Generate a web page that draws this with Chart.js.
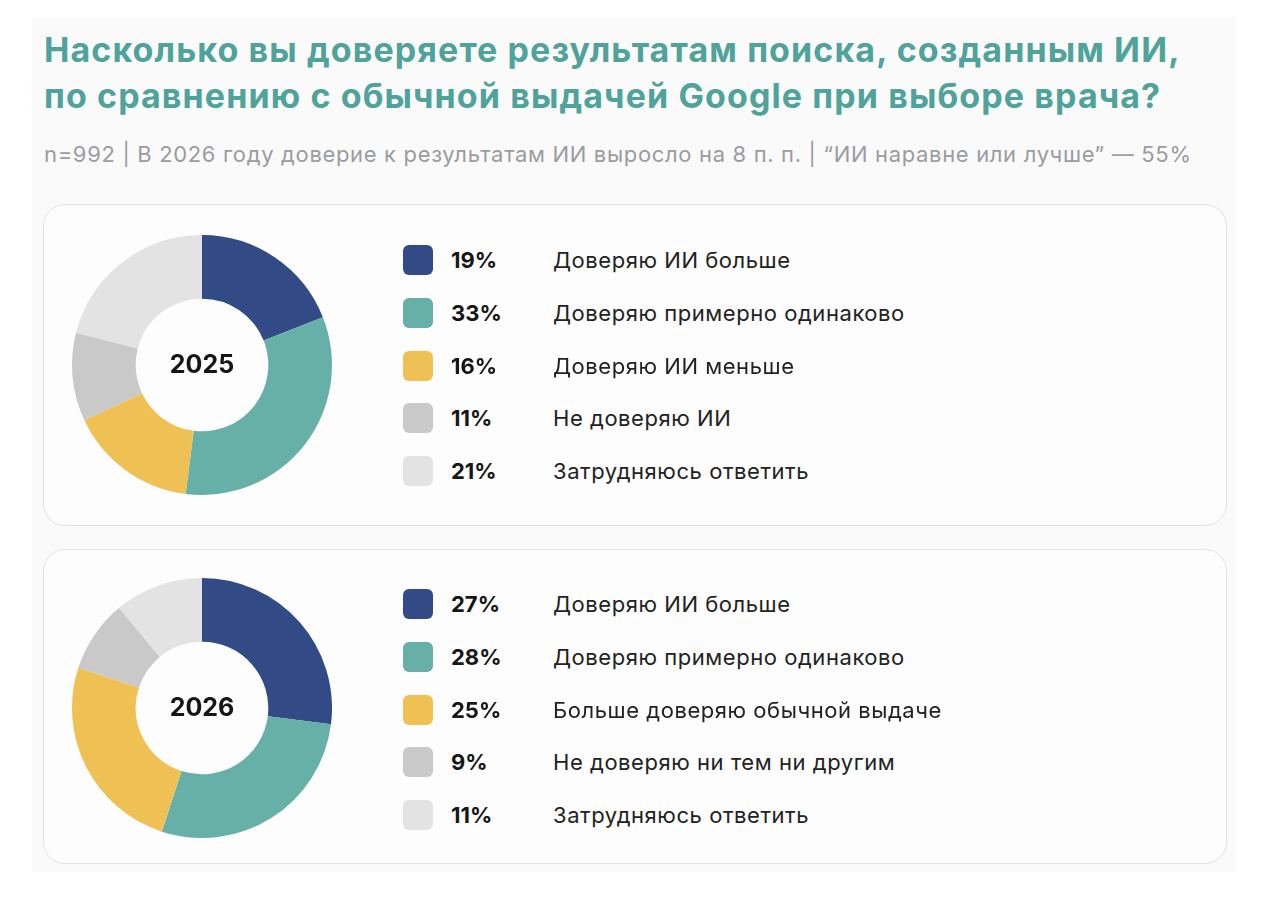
<!DOCTYPE html>
<html lang="ru">
<head>
<meta charset="utf-8">
<script src="https://cdn.jsdelivr.net/npm/chart.js@4.4.1/dist/chart.umd.min.js"></script>
<style>
	body {
		margin: 0;
		background: #ffffff;
		font-family: Inter, 'Noto Sans', sans-serif;
	}
	.page {
		position: absolute;
		left: 32px;
		top: 18px;
		width: 1204px;
		height: 854px;
		background: #fafafa;
	}
	.title {
		position: absolute;
		left: 44px;
		top: 27px;
		margin: 0;
		font-size: 34px;
		line-height: 46px;
		font-weight: 700;
		color: #4fa39a;
		letter-spacing: 1.1px;
	}
	.subtitle {
		position: absolute;
		left: 44px;
		top: 141px;
		font-size: 22px;
		letter-spacing: 0.66px;
		color: #9a9c9f;
	}
	.card {
		position: absolute;
		left: 43px;
		width: 1184px;
		background: #fdfdfd;
		border: 1.5px solid #e2e2e2;
		border-radius: 22px;
		box-sizing: border-box;
	}
	.donut {
		position: absolute;
		left: 72px;
		width: 260px;
		height: 260px;
	}
	.center {
		position: absolute;
		left: 72px;
		width: 260px;
		text-align: center;
		font-size: 25px;
		font-weight: 700;
		color: #161616;
	}
	.row {
		position: absolute;
		left: 403px;
		height: 30px;
		display: flex;
		align-items: center;
	}
	.sw {
		width: 30px;
		height: 30px;
		border-radius: 6px;
	}
	.pct {
		width: 102px;
		margin-left: 18px;
		font-size: 22px;
		font-weight: 700;
		color: #161616;
	}
	.lbl {
		font-size: 22px;
		letter-spacing: 0.55px;
		color: #222222;
	}
</style>
</head>
<body>
<div class="page"></div>
<h1 class="title">Насколько вы доверяете результатам поиска, созданным ИИ,<br>по сравнению с обычной выдачей Google при выборе врача?</h1>
<div class="subtitle">n=992 | В 2026 году доверие к результатам ИИ выросло на 8 п. п. | “ИИ наравне или лучше” — 55%</div>
<div class="card" style="top:204px;height:322px;"></div>
<div class="card" style="top:549px;height:315px;"></div>
<div class="donut" style="top:235px;"><canvas id="chart2025"></canvas></div>
<div class="donut" style="top:578px;"><canvas id="chart2026"></canvas></div>
<div id="legends"></div>

<script>
// Data
const years = ['2025', '2026'];
const labels2025 = [
	'Доверяю ИИ больше',
	'Доверяю примерно одинаково',
	'Доверяю ИИ меньше',
	'Не доверяю ИИ',
	'Затрудняюсь ответить',
];
const labels2026 = [
	'Доверяю ИИ больше',
	'Доверяю примерно одинаково',
	'Больше доверяю обычной выдаче',
	'Не доверяю ни тем ни другим',
	'Затрудняюсь ответить',
];
const values2025 = [19, 33, 16, 11, 21];
const values2026 = [27, 28, 25, 9, 11];
const colors = ['#324b86', '#67b0a8', '#efc155', '#c9c9c9', '#e3e3e3'];

// layout of the two panels (year label top, legend first row top)
const panels = [
	{ id: 'chart2025', year: years[0], labels: labels2025, values: values2025, centerTop: 349, legendTop: 245 },
	{ id: 'chart2026', year: years[1], labels: labels2026, values: values2026, centerTop: 692, legendTop: 589 },
];

const legendsEl = document.getElementById('legends');

panels.forEach(function (p) {
	const ctx = document.getElementById(p.id).getContext('2d');
	new Chart(ctx, {
		type: 'doughnut',
		data: {
			labels: p.labels,
			datasets: [
				{
					data: p.values,
					backgroundColor: colors,
					borderWidth: 0,
				},
			],
		},
		options: {
			responsive: true,
			maintainAspectRatio: false,
			animation: false,
			cutout: '51%',
			plugins: {
				legend: { display: false },
				tooltip: { enabled: false },
			},
		},
	});

	// Year label in the hole
	const c = document.createElement('div');
	c.className = 'center';
	c.style.top = p.centerTop + 'px';
	c.textContent = p.year;
	legendsEl.appendChild(c);

	// Legend rows
	p.labels.forEach(function (label, i) {
		const row = document.createElement('div');
		row.className = 'row';
		row.style.top = p.legendTop + i * 52.8 + 'px';
		row.innerHTML =
			'<div class="sw" style="background:' + colors[i] + '"></div>' +
			'<div class="pct">' + p.values[i] + '%</div>' +
			'<div class="lbl">' + label + '</div>';
		legendsEl.appendChild(row);
	});
});
</script>
</body>
</html>
